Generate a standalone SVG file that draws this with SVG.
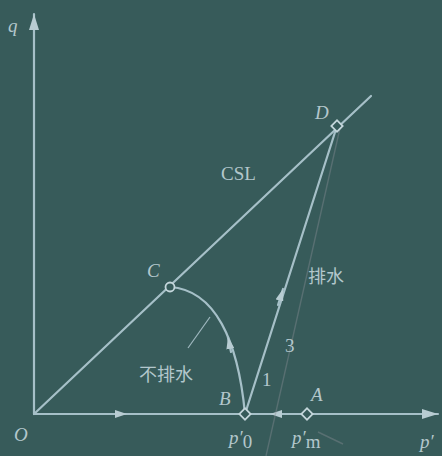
<svg xmlns="http://www.w3.org/2000/svg" width="442" height="456" viewBox="0 0 442 456">
<defs>
<style>
.ln{stroke:#a6c0c8;stroke-width:2.2;fill:none;stroke-linecap:round}
.thin{stroke:#9fb8bf;stroke-width:1.2;fill:none}
.faint{stroke:#8a8f96;stroke-width:1.4;fill:none;opacity:0.4}
.pt{fill:#365b5a;stroke:#c4d6db;stroke-width:1.8}
.it{font-family:"Liberation Serif",serif;font-style:italic;fill:#b3c7cc;font-size:19px}
.rm{font-family:"Liberation Serif",serif;fill:#b3c7cc;font-size:19px}
.cn{font-family:"Noto Sans CJK SC",sans-serif;fill:#b3c7cc;font-size:18px}
</style>
<marker id="arr" viewBox="0 0 12 8" refX="12" refY="4" markerWidth="12" markerHeight="8" markerUnits="userSpaceOnUse" orient="auto">
<path d="M0,0 L12,4 L0,8 z" fill="#b8ccd2"/>
</marker>
<marker id="ax" viewBox="0 0 16 10" refX="16" refY="5" markerWidth="16" markerHeight="10" markerUnits="userSpaceOnUse" orient="auto">
<path d="M0,0 L16,5 L0,10 z" fill="#b8ccd2"/>
</marker>
</defs>
<rect x="0" y="0" width="442" height="456" fill="#375b5a"/>
<g id="connectors">
<line class="ln" x1="34" y1="414" x2="34" y2="14" marker-end="url(#ax)"/>
<line class="ln" x1="34" y1="414" x2="438" y2="414" marker-end="url(#ax)"/>
<line class="ln" x1="34" y1="414" x2="371" y2="96"/>
<line class="ln" x1="245" y1="414" x2="337" y2="126"/>
<path class="ln" d="M245,414 C238,340 215,290 170,287"/>
<line class="ln" x1="110" y1="414" x2="127" y2="414" marker-end="url(#arr)"/>
<line class="ln" x1="288" y1="414" x2="270" y2="414" marker-end="url(#arr)"/>
<line class="ln" x1="278" y1="305" x2="283" y2="289" marker-end="url(#arr)"/>
<line class="ln" x1="231" y1="352" x2="228" y2="337" marker-end="url(#arr)"/>
<line class="thin" x1="210" y1="317" x2="188" y2="348"/>
<line class="faint" x1="340" y1="128" x2="266" y2="456"/>
<line class="faint" x1="318" y1="432" x2="343" y2="444"/>
</g>
<g id="O"><text class="it" x="14" y="441">O</text></g>
<g id="q"><text class="it" x="8" y="32">q</text></g>
<g id="pprime"><text class="it" x="420" y="448">p′</text></g>
<g id="CSL"><text class="rm" x="221" y="180">CSL</text></g>
<g id="D"><rect class="pt" x="333" y="122" width="8" height="8" transform="rotate(45 337 126)"/><text class="it" x="315" y="119">D</text></g>
<g id="C"><circle class="pt" cx="170" cy="287" r="4.5"/><text class="it" x="147" y="277">C</text></g>
<g id="B"><rect class="pt" x="241" y="410" width="8" height="8" transform="rotate(45 245 414)"/><text class="it" x="219" y="405">B</text></g>
<g id="A"><rect class="pt" x="303" y="410" width="8" height="8" transform="rotate(45 307 414)"/><text class="it" x="311" y="401">A</text></g>
<g id="p0"><text class="it" x="229" y="444">p′<tspan class="rm" font-style="normal" font-size="13" dy="4">0</tspan></text></g>
<g id="pm"><text class="it" x="292" y="444">p′<tspan class="rm" font-style="normal" font-size="13" dy="4">m</tspan></text></g>
<g id="undrained"><text class="cn" x="139" y="381">不排水</text></g>
<g id="drained"><text class="cn" x="308" y="283">排水</text></g>
<g id="slope"><text class="rm" x="262" y="386" font-size="16">1</text><text class="rm" x="285" y="352" font-size="14">3</text></g>
</svg>
